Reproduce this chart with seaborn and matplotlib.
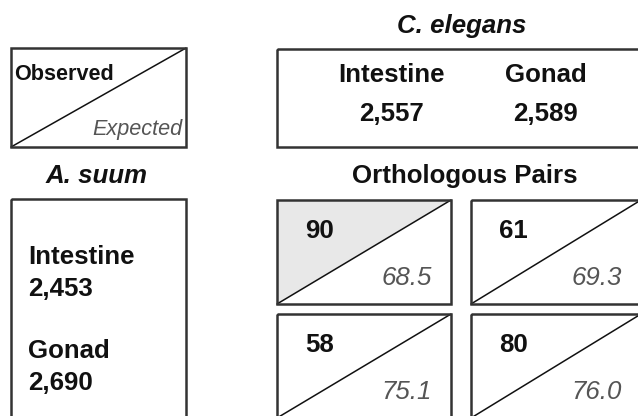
import matplotlib
matplotlib.use("Agg")
import matplotlib.pyplot as plt
from matplotlib.patches import Rectangle, Polygon
import seaborn as sns

# data
celegans_tissues = ["Intestine", "Gonad"]
celegans_counts = [2557, 2589]
asuum_tissues = ["Intestine", "Gonad"]
asuum_counts = [2453, 2690]
observed = [[90, 61], [58, 80]]
expected = [[68.5, 69.3], [75.1, 76.0]]
highlight = [[True, False], [False, False]]

sns.set_theme(style="white")
plt.rcParams['font.family'] = ['Liberation Sans', 'DejaVu Sans']
plt.rcParams['text.color'] = "#111111"

BIG = 18.6
SMALL = 15.6
EDGE = "#333333"
GREY_TXT = "#555555"


def box(ax, x0, y0, x1, y1, lw=1.8):
    ax.add_patch(Rectangle((x0, y0), x1 - x0, y1 - y0, fill=False,
                           edgecolor=EDGE, linewidth=lw, zorder=3))


def split_cell(ax, x0, y0, x1, y1, fill=False):
    if fill:
        ax.add_patch(Polygon([(x0, y0), (x1, y0), (x0, y1)], closed=True,
                             facecolor="#e8e8e8", edgecolor="none", zorder=1))
    ax.plot([x0, x1], [y1, y0], color="#111111", linewidth=1.1, zorder=2)
    box(ax, x0, y0, x1, y1)


fig = plt.figure(figsize=(6.38, 4.16), dpi=100)
ax = fig.add_axes([0, 0, 1, 1])
ax.set_xlim(0, 638)
ax.set_ylim(416, 0)
ax.axis("off")

# legend key
split_cell(ax, 11, 48, 186, 147)
ax.text(14, 80, "Observed", fontsize=SMALL, fontweight="bold", va="baseline")
ax.text(182, 135, "Expected", fontsize=SMALL, style="italic", color=GREY_TXT,
        ha="right", va="baseline")

# C. elegans header
ax.text(462, 33, "C. elegans", fontsize=BIG, fontweight="bold", style="italic",
        ha="center", va="baseline")
box(ax, 277, 49, 646, 147)
for cx, name, n in zip([392, 546], celegans_tissues, celegans_counts):
    ax.text(cx, 82, name, fontsize=BIG, fontweight="bold", ha="center", va="baseline")
    ax.text(cx, 121, f"{n:,}", fontsize=BIG, fontweight="bold", ha="center", va="baseline")

# A. suum side
ax.text(97, 183, "A. suum", fontsize=BIG, fontweight="bold", style="italic",
        ha="center", va="baseline")
box(ax, 11, 199, 186, 422)
for by, name, n in zip([264, 358], asuum_tissues, asuum_counts):
    ax.text(28, by, name, fontsize=BIG, fontweight="bold", va="baseline")
    ax.text(28, by + 32, f"{n:,}", fontsize=BIG, fontweight="bold", va="baseline")

# orthologous pairs grid
ax.text(465, 183, "Orthologous Pairs", fontsize=BIG, fontweight="bold",
        ha="center", va="baseline")
col_x = [(277, 451), (471, 641)]
row_y = [(200, 304), (314, 418)]
for i, (y0, y1) in enumerate(row_y):
    for j, (x0, x1) in enumerate(col_x):
        split_cell(ax, x0, y0, x1, y1, fill=highlight[i][j])
        ax.text(x0 + 28, y0 + 38, str(observed[i][j]), fontsize=BIG,
                fontweight="bold", va="baseline")
        ax.text(x1 - 19, y0 + 85, f"{expected[i][j]:.1f}", fontsize=BIG,
                style="italic", color=GREY_TXT, ha="right", va="baseline")

fig.savefig("out.png", dpi=100, facecolor="white")
